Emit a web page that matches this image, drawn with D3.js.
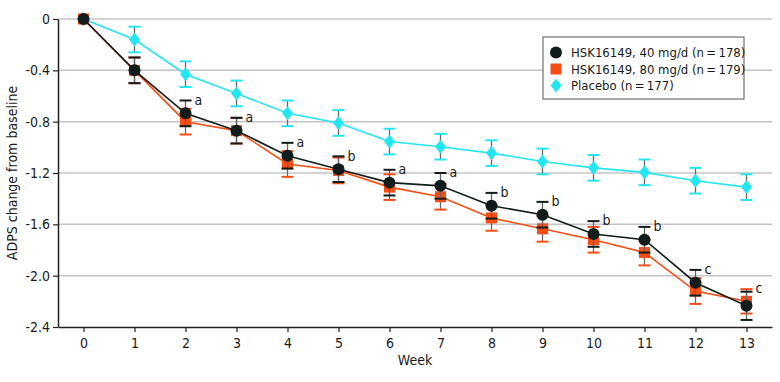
<!DOCTYPE html>
<html lang="en">
<head>
    <meta charset="UTF-8">
    <title>ADPS change from baseline</title>
    <script src="https://d3js.org/d3.v7.min.js"></script>
    <style>
        body {
            margin: 0;
            background: #fff;
        }
        text {
            font-family: "Liberation Sans Narrow", "DejaVu Sans Condensed", "Roboto Condensed", sans-serif;
            fill: #1a1a1a;
        }
        .grid line {
            stroke: #c4c4c4;
            stroke-width: 1.5;
        }
    </style>
</head>
<body>
    <div id="chart"></div>

    <script>
        // data
        const weeks = [0, 1, 2, 3, 4, 5, 6, 7, 8, 9, 10, 11, 12, 13];
        const dose40 = [0, -0.40, -0.735, -0.87, -1.065, -1.17, -1.275, -1.30, -1.455, -1.525, -1.675, -1.72, -2.055, -2.235];
        const dose40Err = [0, 0.10, 0.10, 0.10, 0.10, 0.10, 0.10, 0.10, 0.10, 0.10, 0.10, 0.10, 0.10, 0.11];
        const dose80 = [0, -0.40, -0.80, -0.87, -1.13, -1.18, -1.31, -1.385, -1.55, -1.635, -1.72, -1.82, -2.12, -2.20];
        const dose80Err = [0, 0.10, 0.10, 0.10, 0.10, 0.10, 0.10, 0.10, 0.10, 0.10, 0.10, 0.10, 0.10, 0.095];
        const placebo = [0, -0.16, -0.43, -0.58, -0.735, -0.81, -0.955, -0.995, -1.045, -1.11, -1.16, -1.195, -1.26, -1.31];
        const placeboErr = [0, 0.10, 0.10, 0.10, 0.10, 0.10, 0.10, 0.10, 0.10, 0.10, 0.10, 0.10, 0.10, 0.10];
        const sigLetters = ["", "", "a", "a", "a", "b", "a", "a", "b", "b", "b", "b", "c", "c"];
        const yTicks = [0, -0.4, -0.8, -1.2, -1.6, -2.0, -2.4];

        const series = [
            { name: "Placebo (n\u2009=\u2009177)", values: placebo, err: placeboErr, color: "#22e6f2", shape: "diamond" },
            { name: "HSK16149, 80 mg/d (n\u2009=\u2009179)", values: dose80, err: dose80Err, color: "#f94c12", shape: "square" },
            { name: "HSK16149, 40 mg/d (n\u2009=\u2009178)", values: dose40, err: dose40Err, color: "#111c1c", shape: "circle" }
        ];
        const legendOrder = [series[2], series[1], series[0]];

        const width = 780, height = 382;
        const margin = { top: 19, right: 8, bottom: 55, left: 58 };

        const svg = d3.select("#chart")
            .append("svg")
            .attr("width", width)
            .attr("height", height);

        const x = d3.scaleLinear()
            .domain([-0.5, 13.5])
            .range([margin.left, width - margin.right]);

        const y = d3.scaleLinear()
            .domain([0, -2.4])
            .range([margin.top, height - margin.bottom]);

        // gridlines
        svg.append("g")
            .attr("class", "grid")
            .selectAll("line")
            .data(yTicks.slice(0, -1))
            .enter()
            .append("line")
            .attr("x1", margin.left)
            .attr("x2", width - margin.right)
            .attr("y1", d => y(d))
            .attr("y2", d => y(d));

        // axes
        const yAxis = svg.append("g")
            .attr("transform", `translate(${margin.left},0)`)
            .call(d3.axisLeft(y).tickValues(yTicks).tickFormat(d => d === 0 ? "0" : d.toFixed(1)).tickSize(5).tickSizeOuter(0));

        const xAxis = svg.append("g")
            .attr("transform", `translate(0,${y(-2.4)})`)
            .call(d3.axisBottom(x).tickValues(weeks).tickFormat(d3.format("d")).tickSize(5).tickSizeOuter(0));

        [xAxis, yAxis].forEach(g => {
            g.select(".domain").attr("stroke", "#222").attr("stroke-width", 1.5);
            g.selectAll(".tick line").attr("stroke", "#222").attr("stroke-width", 1.2);
            g.selectAll(".tick text").style("font-size", "14px").attr("fill", "#1a1a1a");
        });
        xAxis.selectAll(".tick text").attr("dy", "0.95em");

        // axis labels
        svg.append("text")
            .attr("x", x(6.5))
            .attr("y", 365)
            .style("text-anchor", "middle")
            .style("font-size", "14px")
            .text("Week");

        svg.append("text")
            .attr("transform", "rotate(-90)")
            .attr("x", -y(-1.2))
            .attr("y", 17)
            .style("text-anchor", "middle")
            .style("font-size", "14px")
            .text("ADPS change from baseline");

        const line = d3.line()
            .x((d, i) => x(weeks[i]))
            .y(d => y(d));

        const capW = 6;

        function drawMarker(g, shape, color, cx, cy) {
            if (shape === "circle") {
                g.append("circle").attr("cx", cx).attr("cy", cy).attr("r", 6).attr("fill", color);
            } else if (shape === "square") {
                g.append("rect").attr("x", cx - 5.5).attr("y", cy - 5.5).attr("width", 11).attr("height", 11).attr("fill", color);
            } else {
                g.append("path")
                    .attr("d", `M${cx},${cy - 7}L${cx + 5.5},${cy}L${cx},${cy + 7}L${cx - 5.5},${cy}Z`)
                    .attr("fill", color);
            }
        }

        series.forEach(s => {
            const g = svg.append("g");

            // error bars
            s.values.forEach((v, i) => {
                if (s.err[i] === 0) return;
                const cx = x(weeks[i]);
                g.append("line")
                    .attr("x1", cx).attr("x2", cx)
                    .attr("y1", y(v + s.err[i])).attr("y2", y(v - s.err[i]))
                    .attr("stroke", "#666").attr("stroke-width", 1.3);
                [v + s.err[i], v - s.err[i]].forEach(e => {
                    g.append("line")
                        .attr("x1", cx - capW).attr("x2", cx + capW)
                        .attr("y1", y(e)).attr("y2", y(e))
                        .attr("stroke", s.color).attr("stroke-width", 2);
                });
            });

            g.append("path")
                .datum(s.values)
                .attr("d", line)
                .attr("fill", "none")
                .attr("stroke", s.color)
                .attr("stroke-width", 1.6);

            s.values.forEach((v, i) => drawMarker(g, s.shape, s.color, x(weeks[i]), y(v)));
        });

        // significance letters beside the upper cap
        svg.append("g")
            .selectAll("text")
            .data(weeks.filter((w, i) => sigLetters[i] !== ""))
            .enter()
            .append("text")
            .attr("x", w => x(w) + 9)
            .attr("y", w => y(Math.max(dose40[w] + dose40Err[w], dose80[w] + dose80Err[w])))
            .attr("dy", "0.3em")
            .style("font-size", "14px")
            .text(w => sigLetters[w]);

        // legend
        const legend = svg.append("g").attr("transform", "translate(543,37)");
        legend.append("rect")
            .attr("width", 201)
            .attr("height", 62)
            .attr("fill", "#fff")
            .attr("stroke", "#555")
            .attr("stroke-width", 1);

        legendOrder.forEach((s, i) => {
            const ly = 15.5 + i * 16.5;
            drawMarker(legend, s.shape, s.color, 13, ly);
            legend.append("text")
                .attr("x", 28)
                .attr("y", ly)
                .attr("dy", "0.35em")
                .style("font-size", "13px")
                .text(s.name);
        });
    </script>
</body>
</html>
